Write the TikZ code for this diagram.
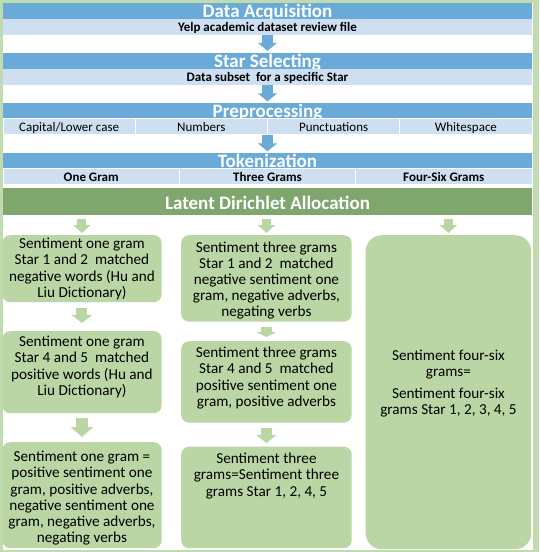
\documentclass[tikz,border=0pt]{standalone}
\usepackage{fontspec}
\setmainfont{Carlito}
\usepackage{tikz}
\usetikzlibrary{positioning, arrows.meta}

\definecolor{bandblue}{RGB}{106,170,216}
\definecolor{paleblue}{RGB}{205,223,240}
\definecolor{ldagreen}{RGB}{127,166,108}
\definecolor{boxgreen}{RGB}{185,214,164}
\definecolor{framegreen}{RGB}{192,219,175}

\begin{document}
\begin{tikzpicture}[x=1pt, y=-1pt,
	stagebar/.style={fill=bandblue, minimum width=529pt, minimum height=15.5pt, inner sep=0pt, text=white, font=\fontsize{19}{19}\selectfont\bfseries, text height=13pt, text depth=0pt},
	subbar/.style={fill=paleblue, minimum width=529pt, minimum height=16pt, inner sep=0pt, font=\fontsize{13}{13}\selectfont\bfseries, text height=9pt, text depth=0pt},
	rowcell/.style={fill=paleblue, draw=white, line width=0.8pt, minimum height=16pt, inner sep=0pt, font=\fontsize{13}{13}\selectfont, text height=9pt, text depth=0pt},
	sentbox/.style={fill=boxgreen, rounded corners=8pt, inner sep=0pt, anchor=north west},
	senttext/.style={align=center, inner sep=0pt, font=\fontsize{15.2}{16.2}\selectfont},
	bluearrow/.style={draw=bandblue, line width=11pt, -{Triangle[width=19pt,length=8pt]}},
	ldaarrow/.style={draw=boxgreen, line width=9pt, -{Triangle[width=17pt,length=8pt]}, shorten <=4pt, shorten >=2pt},
	greenarrow/.style={draw=boxgreen, line width=11pt, -{Triangle[width=20pt,length=8pt]}}]
	\useasboundingbox (0,0) rectangle (539,552);
	\fill[framegreen] (0,0) rectangle (539,552);
	\fill[white] (3,2.5) rectangle (532.5,549.5);
	
	% blue stages
	\node[stagebar] (acq) at (267.5,10.75) {Data Acquisition};
	\node[subbar] (acqsub) at (267.5,26.5) {Yelp academic dataset review file};
	\node[stagebar] (star) at (267.5,60.75) {Star Selecting};
	\node[subbar] (starsub) at (267.5,76.5) {Data subset~ for a specific Star};
	\node[stagebar] (prep) at (267.5,110.75) {Preprocessing};
	\node[subbar] (prepsub) at (267.5,126.5) {};
	\node[rowcell, minimum width=132.25pt] (case) at (69.125,126.5) {Capital/Lower case};
	\node[rowcell, minimum width=132.25pt] (numbers) at (201.375,126.5) {Numbers};
	\node[rowcell, minimum width=132.25pt] (punct) at (333.625,126.5) {Punctuations};
	\node[rowcell, minimum width=132.25pt] (space) at (465.875,126.5) {Whitespace};
	\node[stagebar] (token) at (267.5,160.75) {Tokenization};
	\node[subbar] (tokensub) at (267.5,176.5) {};
	\node[rowcell, minimum width=176.33pt, font=\fontsize{13}{13}\selectfont\bfseries] (onegram) at (91.17,176.5) {One Gram};
	\node[rowcell, minimum width=176.33pt, font=\fontsize{13}{13}\selectfont\bfseries] (threegram) at (267.5,176.5) {Three Grams};
	\node[rowcell, minimum width=176.33pt, font=\fontsize{13}{13}\selectfont\bfseries] (foursixgram) at (443.83,176.5) {Four-Six Grams};
	\node[stagebar, fill=ldagreen, minimum height=27pt, text height=16pt] (lda) at (267.5,201) {Latent Dirichlet Allocation};
	
	\draw[bluearrow, shorten >=2pt] (acqsub) -- (star);
	\draw[bluearrow, shorten >=1.5pt] (starsub) -- (prep);
	\draw[bluearrow, shorten >=1.5pt] (prepsub) -- (token);
	
	% green boxes
	\node[sentbox, minimum width=159.5pt, minimum height=67pt] (oneneg) at (2,235) {};
	\node[sentbox, minimum width=159.5pt, minimum height=82pt] (onepos) at (2,331) {};
	\node[sentbox, minimum width=159.5pt, minimum height=106pt] (onesum) at (2,442) {};
	\node[sentbox, minimum width=170.5pt, minimum height=86.5pt] (threeneg) at (181,235) {};
	\node[sentbox, minimum width=170.5pt, minimum height=81.5pt] (threepos) at (181,341) {};
	\node[sentbox, minimum width=170.5pt, minimum height=101.5pt] (threesum) at (181,446.5) {};
	\node[sentbox, minimum width=165.5pt, minimum height=314pt, rounded corners=16pt] (foursix) at (365.5,235) {};
	
	\node[senttext, below=3pt of oneneg.north] (onenegtext) {Sentiment one gram\\Star 1 and 2~ matched\\negative words (Hu and\\Liu Dictionary)};
	\node[senttext, below=5pt of onepos.north] (onepostext) {Sentiment one gram\\Star 4 and 5~ matched\\positive words (Hu and\\Liu Dictionary)};
	\node[senttext, below=9pt of onesum.north] (onesumtext) {Sentiment one gram =\\positive sentiment one\\gram, positive adverbs,\\negative sentiment one\\gram, negative adverbs,\\negating verbs};
	\node[senttext, below=6.4pt of threeneg.north] (threenegtext) {Sentiment three grams\\Star 1 and 2~ matched\\negative sentiment one\\gram, negative adverbs,\\negating verbs};
	\node[senttext, below=6pt of threepos.north] (threepostext) {Sentiment three grams\\Star 4 and 5~ matched\\positive sentiment one\\gram, positive adverbs};
	\node[senttext, below=6.5pt of threesum.north] (threesumtext) {Sentiment three\\grams=Sentiment three\\grams Star 1, 2, 4, 5};
	\node[senttext, below=114.7pt of foursix.north] (foursixtext) {Sentiment four-six\\grams=\\[5.6pt]Sentiment four-six\\grams Star 1, 2, 3, 4, 5};
	
	\draw[ldaarrow] (lda.south -| oneneg) -- (oneneg);
	\draw[ldaarrow] (lda.south -| threeneg) -- (threeneg);
	\draw[ldaarrow] (lda.south -| foursix) -- (foursix);
	\draw[greenarrow, shorten <=6pt, shorten >=8pt] (oneneg) -- (onepos);
	\draw[greenarrow, line width=12pt, -{Triangle[width=22pt,length=10pt]}, shorten <=5pt, shorten >=5pt] (onepos) -- (onesum);
	\draw[greenarrow, -{Triangle[width=20pt,length=5pt]}, shorten <=5pt, shorten >=4pt] (threeneg) -- (threepos);
	\draw[greenarrow, shorten <=5.5pt, shorten >=3.5pt] (threepos) -- (threesum);
\end{tikzpicture}
\end{document}
